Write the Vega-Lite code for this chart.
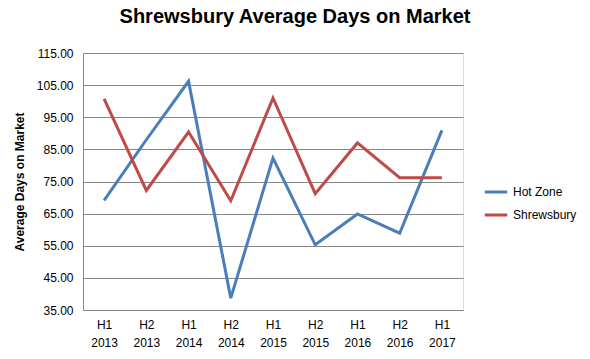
{
  "$schema": "https://vega.github.io/schema/vega-lite/v6.json",
  "width": 380,
  "height": 257,
  "autosize": {"type": "none"},
  "padding": {"left": 83, "top": 53, "right": 127, "bottom": 49},
  "background": "white",
  "title": {
    "text": "Shrewsbury Average Days on Market",
    "font": "Liberation Sans",
    "fontSize": 20,
    "fontWeight": "bold",
    "color": "black",
    "anchor": "middle",
    "dx": 22,
    "offset": 20
  },
  "data": {
    "values": [
      {"period": "H1 2013", "series": "Hot Zone", "days": 69.1},
      {"period": "H2 2013", "series": "Hot Zone", "days": 88.0},
      {"period": "H1 2014", "series": "Hot Zone", "days": 106.2},
      {"period": "H2 2014", "series": "Hot Zone", "days": 38.7},
      {"period": "H1 2015", "series": "Hot Zone", "days": 82.3},
      {"period": "H2 2015", "series": "Hot Zone", "days": 55.3},
      {"period": "H1 2016", "series": "Hot Zone", "days": 64.9},
      {"period": "H2 2016", "series": "Hot Zone", "days": 58.9},
      {"period": "H1 2017", "series": "Hot Zone", "days": 90.9},
      {"period": "H1 2013", "series": "Shrewsbury", "days": 100.7},
      {"period": "H2 2013", "series": "Shrewsbury", "days": 72.2},
      {"period": "H1 2014", "series": "Shrewsbury", "days": 90.4},
      {"period": "H2 2014", "series": "Shrewsbury", "days": 69.0},
      {"period": "H1 2015", "series": "Shrewsbury", "days": 101.0},
      {"period": "H2 2015", "series": "Shrewsbury", "days": 71.2},
      {"period": "H1 2016", "series": "Shrewsbury", "days": 87.0},
      {"period": "H2 2016", "series": "Shrewsbury", "days": 76.2},
      {"period": "H1 2017", "series": "Shrewsbury", "days": 76.2}
    ]
  },
  "mark": {"type": "line", "strokeWidth": 3},
  "encoding": {
    "x": {
      "field": "period",
      "type": "ordinal",
      "sort": null,
      "scale": {"type": "point", "padding": 0.5},
      "axis": {
        "title": null,
        "labelExpr": "split(datum.label, ' ')",
        "labelAngle": 0,
        "labelFont": "Liberation Sans",
        "labelFontSize": 12,
        "labelColor": "black",
        "labelLineHeight": 18,
        "labelPadding": 9,
        "ticks": false,
        "grid": false,
        "domainColor": "#868686"
      }
    },
    "y": {
      "field": "days",
      "type": "quantitative",
      "scale": {"domain": [35, 115], "nice": false, "zero": false},
      "axis": {
        "title": "Average Days on Market",
        "titleFont": "Liberation Sans",
        "titleFontSize": 12,
        "titleFontWeight": "bold",
        "titleColor": "black",
        "titlePadding": 10,
        "values": [35, 45, 55, 65, 75, 85, 95, 105, 115],
        "format": ".2f",
        "labelFont": "Liberation Sans",
        "labelFontSize": 12,
        "labelColor": "black",
        "labelPadding": 10,
        "ticks": false,
        "grid": true,
        "gridColor": "#868686",
        "gridOpacity": 1,
        "domainColor": "#868686"
      }
    },
    "color": {
      "field": "series",
      "type": "nominal",
      "scale": {"domain": ["Hot Zone", "Shrewsbury"], "range": ["#4A7EBB", "#BE4B48"]},
      "legend": {
        "title": null,
        "orient": "none",
        "legendX": 400,
        "legendY": 126,
        "symbolType": "stroke",
        "symbolSize": 500,
        "symbolStrokeWidth": 3,
        "labelFont": "Liberation Sans",
        "labelFontSize": 12,
        "labelColor": "black",
        "rowPadding": 4,
        "labelOffset": 4
      }
    }
  }
}
